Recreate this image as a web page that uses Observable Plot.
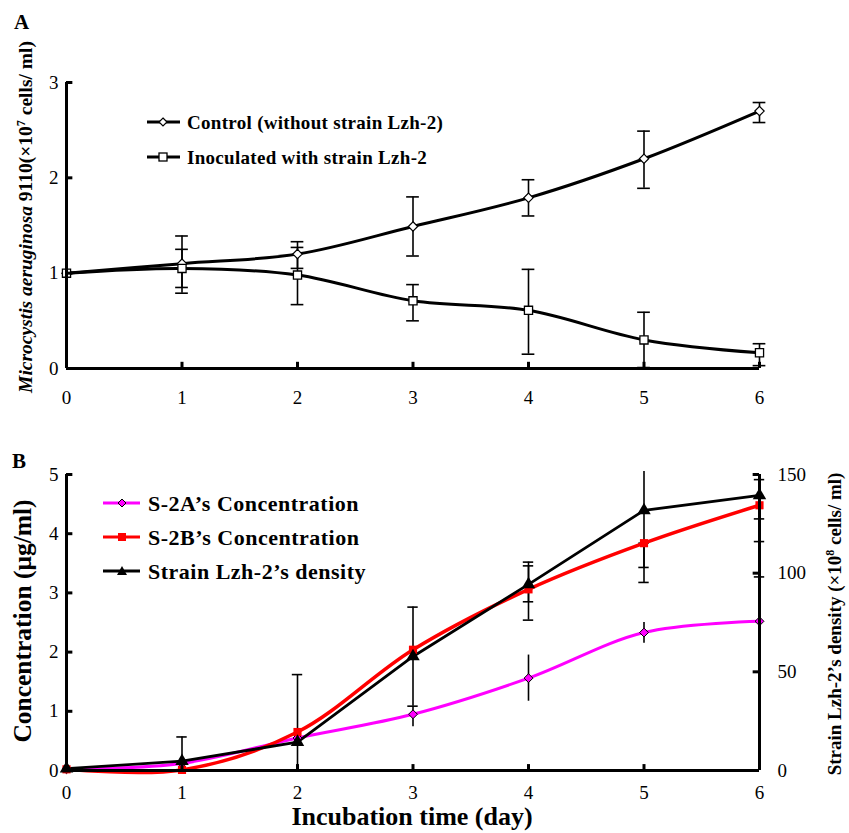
<!DOCTYPE html>
<html><head><meta charset="utf-8">
<script src="https://cdn.jsdelivr.net/npm/d3@7"></script>
<script src="https://cdn.jsdelivr.net/npm/@observablehq/plot@0.6"></script>
<style>
body{margin:0;background:#fff;}
#wrap{position:relative;width:849px;height:833px;background:#fff;}
#a{position:absolute;left:0;top:0;}
#b{position:absolute;left:0;top:420px;}
</style></head><body><div id="wrap"><div id="a"></div><div id="b"></div></div>
<script>
// ---------- data ----------
const days = [0, 1, 2, 3, 4, 5, 6];
// Panel A
const controlMean = [1.00, 1.10, 1.20, 1.49, 1.79, 2.20, 2.70];
const controlLo   = [null, 0.85, 1.05, 1.18, 1.60, 1.89, 2.58];
const controlHi   = [null, 1.25, 1.33, 1.80, 1.98, 2.49, 2.79];
const inocMean    = [1.00, 1.05, 0.98, 0.71, 0.61, 0.30, 0.165];
const inocLo      = [null, 0.79, 0.67, 0.50, 0.15, 0.01, 0.03];
const inocHi      = [null, 1.39, 1.27, 0.88, 1.04, 0.59, 0.26];
const yTicksA = [0, 1, 2, 3];
// Panel B
const s2aMean = [0.02, 0.12, 0.55, 0.95, 1.56, 2.33, 2.52];
const s2aLo   = [null, null, null, 0.74, 1.17, 2.15, null];
const s2aHi   = [null, null, null, 1.08, 1.95, 2.50, null];
const s2bMean = [0.02, 0.01, 0.65, 2.04, 3.06, 3.84, 4.48];
const s2bLo   = [null, null, null, null, 2.54, 3.43, 3.27];
const s2bHi   = [null, null, null, null, 3.52, 3.84, 4.25];
const densMean = [0.9, 4.7, 14.4, 57.8, 94.3, 131.8, 139.4];
const densLo   = [null, 0, 0, 32.6, 85.5, 95.3, 116];
const densHi   = [null, 17, 48.6, 82.8, 103.7, 151.5, 147.4];
const yTicksB = [0, 1, 2, 3, 4, 5];
const yTicksB2 = [0, 50, 100, 150];
const densFactor = 150 / 5; // right axis 0-150 maps onto left 0-5

// ---------- helpers ----------
const serif = '"Liberation Serif","Times New Roman",serif';
const W = 849;
const rows = (mean, lo, hi, k = 1) => days.map((d, i) => ({
  x: d, y: mean[i] / k,
  lo: lo[i] == null ? null : lo[i] / k,
  hi: hi[i] == null ? null : hi[i] / k
}));
function errMarks(data, capHalf, sw, stroke, caps = true, capMax = Infinity) {
  const e = data.filter(d => d.lo != null);
  const capRows = e.flatMap(d => [{x: d.x, y: d.lo}, {x: d.x, y: d.hi}]).filter(c => c.y <= capMax);
  const m = [Plot.ruleX(e, {x: "x", y1: "lo", y2: "hi", stroke, strokeWidth: sw})];
  if (caps) m.push(Plot.ruleY(capRows, {y: "y", x1: d => d.x - capHalf, x2: d => d.x + capHalf, stroke, strokeWidth: sw}));
  return m;
}
function addText(sel, x, y, str, size, opts = {}) {
  return sel.append("text").attr("x", x).attr("y", y).attr("text-anchor", opts.anchor || "start")
    .attr("font-family", serif).attr("font-weight", "bold").attr("font-size", size)
    .attr("letter-spacing", opts.ls || null)
    .attr("fill", "#000").attr("dy", opts.dy || null).text(str);
}

// ---------- Panel A ----------
const ctrl = rows(controlMean, controlLo, controlHi);
const inoc = rows(inocMean, inocLo, inocHi);
const plotA = Plot.plot({
  width: W, height: 420,
  marginLeft: 66, marginRight: 90, marginTop: 82, marginBottom: 52,
  x: {domain: [0, 6], axis: null},
  y: {domain: [0, 3], axis: null},
  style: {fontFamily: serif, background: "white", overflow: "visible"},
  marks: [
    ...errMarks(ctrl, 0.055, 1.6, "#000"),
    ...errMarks(inoc, 0.055, 1.6, "#000"),
    Plot.line(ctrl, {x: "x", y: "y", curve: "catmull-rom", stroke: "#000", strokeWidth: 3}),
    Plot.line(inoc, {x: "x", y: "y", curve: "catmull-rom", stroke: "#000", strokeWidth: 3}),
    Plot.dot(ctrl, {x: "x", y: "y", symbol: "diamond2", r: 4.2, fill: "white", stroke: "#000", strokeWidth: 1.2}),
    Plot.dot(inoc, {x: "x", y: "y", symbol: "square", r: 4.6, fill: "white", stroke: "#000", strokeWidth: 1.3}),
    Plot.ruleY([0], {stroke: "#000", strokeWidth: 3}),
    Plot.ruleX([0], {stroke: "#000", strokeWidth: 3}),
    Plot.ruleX(days, {x: d => d, y1: 0, y2: 0.065, stroke: "#000", strokeWidth: 3}),
    Plot.ruleY(yTicksA.slice(1), {y: d => d, x1: 0, x2: 0.055, stroke: "#000", strokeWidth: 3}),
    Plot.text(days, {x: d => d, y: 0, dy: 29, text: d => String(d), fontSize: 19, fill: "#000"}),
    Plot.text(yTicksA, {x: 0, y: d => d, dx: -8, textAnchor: "end", text: d => String(d), fontSize: 19, fill: "#000"})
  ]
});
document.getElementById("a").appendChild(plotA);
{
  const s = d3.select(plotA);
  addText(s, 14, 29, "A", 21);
  const t = s.append("text").attr("transform", "translate(32,217) rotate(-90)").attr("text-anchor", "middle")
    .attr("font-family", serif).attr("font-weight", "bold").attr("font-size", 19.5).attr("fill", "#000");
  t.append("tspan").attr("font-style", "italic").text("Microcystis aeruginosa");
  t.append("tspan").text(" 9110(×10");
  t.append("tspan").attr("dy", -7).attr("font-size", 12).text("7");
  t.append("tspan").attr("dy", 7).text(" cells/ ml)");
  const leg = [
    {label: "Control (without strain Lzh-2)", y: 122, sym: "diamond"},
    {label: "Inoculated with strain Lzh-2", y: 157, sym: "square"}
  ];
  leg.forEach(l => {
    s.append("line").attr("x1", 147).attr("x2", 180).attr("y1", l.y).attr("y2", l.y)
      .attr("stroke", "#000").attr("stroke-width", 3);
    if (l.sym === "diamond") {
      s.append("path").attr("d", `M163,${l.y-4}L167,${l.y}L163,${l.y+4}L159,${l.y}Z`)
        .attr("fill", "white").attr("stroke", "#000").attr("stroke-width", 1.2);
    } else {
      s.append("rect").attr("x", 159).attr("y", l.y - 4).attr("width", 8).attr("height", 8)
        .attr("fill", "white").attr("stroke", "#000").attr("stroke-width", 1.3);
    }
    addText(s, 187, l.y, l.label, 19, {dy: "0.35em", ls: 0.3});
  });
}

// ---------- Panel B ----------
const s2a = rows(s2aMean, s2aLo, s2aHi);
const s2b = rows(s2bMean, s2bLo, s2bHi);
const dens = rows(densMean, densLo, densHi, densFactor);
const plotB = Plot.plot({
  width: W, height: 413,
  marginLeft: 66, marginRight: 90, marginTop: 54, marginBottom: 63,
  x: {domain: [0, 6], axis: null},
  y: {domain: [0, 5], axis: null},
  style: {fontFamily: serif, background: "white", overflow: "visible"},
  marks: [
    ...errMarks(s2a, 0.045, 1.6, "#000", false),
    ...errMarks(s2b, 0.045, 1.6, "#000", true, 5),
    ...errMarks(dens, 0.045, 1.6, "#000", true, 5),
    Plot.line(s2a, {x: "x", y: "y", curve: "catmull-rom", stroke: "#ff00ff", strokeWidth: 3}),
    Plot.line(s2b, {x: "x", y: "y", curve: "catmull-rom", stroke: "#ff0000", strokeWidth: 3.5}),
    Plot.line(dens, {x: "x", y: "y", stroke: "#000", strokeWidth: 2.8}),
    Plot.dot(s2a, {x: "x", y: "y", symbol: "diamond2", r: 4, fill: "#ff00ff", stroke: "#000", strokeWidth: 1}),
    Plot.dot(s2b, {x: "x", y: "y", symbol: "square", r: 4.6, fill: "#ff0000", stroke: "none"}),
    Plot.dot(dens, {x: "x", y: "y", symbol: "triangle", r: 5, fill: "#000", stroke: "none"}),
    Plot.ruleY([0], {stroke: "#000", strokeWidth: 3}),
    Plot.ruleX([0], {stroke: "#000", strokeWidth: 3}),
    Plot.ruleX([6], {stroke: "#000", strokeWidth: 3}),
    Plot.ruleX(days, {x: d => d, y1: 0, y2: 0.1, stroke: "#000", strokeWidth: 3}),
    Plot.ruleY(yTicksB.slice(1), {y: d => d, x1: 0, x2: 0.055, stroke: "#000", strokeWidth: 3}),
    Plot.ruleY(yTicksB2.slice(1), {y: d => d / densFactor, x1: 6 - 0.055, x2: 6, stroke: "#000", strokeWidth: 3}),
    Plot.text(days, {x: d => d, y: 0, dy: 22, text: d => String(d), fontSize: 19, fill: "#000"}),
    Plot.text(yTicksB, {x: 0, y: d => d, dx: -8, textAnchor: "end", text: d => String(d), fontSize: 19, fill: "#000"}),
    Plot.text(yTicksB2, {x: 6, y: d => d / densFactor, dx: 18, textAnchor: "start", text: d => String(d), fontSize: 19, fill: "#000"})
  ]
});
document.getElementById("b").appendChild(plotB);
{
  const s = d3.select(plotB);
  addText(s, 12, 48, "B", 21);
  s.append("text").attr("transform", "translate(31,201) rotate(-90)").attr("text-anchor", "middle")
    .attr("font-family", serif).attr("font-weight", "bold").attr("font-size", 25.5).attr("fill", "#000")
    .text("Concentration (μg/ml)");
  const t = s.append("text").attr("transform", "translate(841,204) rotate(-90)").attr("text-anchor", "middle")
    .attr("font-family", serif).attr("font-weight", "bold").attr("font-size", 19).attr("fill", "#000");
  t.append("tspan").text("Strain Lzh-2’s density (×10");
  t.append("tspan").attr("dy", -7).attr("font-size", 12).text("8");
  t.append("tspan").attr("dy", 7).text(" cells/ ml)");
  addText(s, 412, 405, "Incubation time (day)", 26, {anchor: "middle"});
  const leg = [
    {label: "S-2A’s Concentration", y: 83, color: "#ff00ff", sym: "diamond"},
    {label: "S-2B’s Concentration", y: 117, color: "#ff0000", sym: "square"},
    {label: "Strain Lzh-2’s density", y: 151, color: "#000", sym: "triangle"}
  ];
  leg.forEach(l => {
    s.append("line").attr("x1", 103).attr("x2", 140).attr("y1", l.y).attr("y2", l.y)
      .attr("stroke", l.color).attr("stroke-width", 3.2);
    const cx = 122;
    if (l.sym === "diamond") {
      s.append("path").attr("d", `M${cx},${l.y-4}L${cx+4},${l.y}L${cx},${l.y+4}L${cx-4},${l.y}Z`)
        .attr("fill", l.color).attr("stroke", "#000").attr("stroke-width", 1);
    } else if (l.sym === "square") {
      s.append("rect").attr("x", cx - 4).attr("y", l.y - 4).attr("width", 8).attr("height", 8).attr("fill", l.color);
    } else {
      s.append("path").attr("d", `M${cx},${l.y-5}L${cx+5},${l.y+4}L${cx-5},${l.y+4}Z`).attr("fill", l.color);
    }
    addText(s, 148, l.y, l.label, 22, {dy: "0.35em", ls: 0.5});
  });
}
</script>
</body></html>
